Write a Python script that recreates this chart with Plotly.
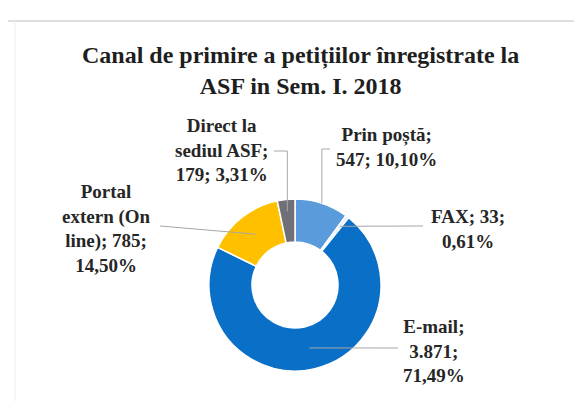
import math
import plotly.graph_objects as go

# ---- data ----
categories = ["Prin poștă", "FAX", "E-mail", "Portal extern (On line)", "Direct la sediul ASF"]
label_names = ["Prin poștă", "FAX", "E-mail", "Portal<br>extern (On<br>line)", "Direct la<br>sediul ASF"]
values = [547, 33, 3871, 785, 179]
colors = ["#5a9bdc", "#e6edf6", "#0a6fc6", "#ffc000", "#6f6f78"]

title_text = "Canal de primire a petițiilor înregistrate la<br>ASF in Sem. I. 2018"

# ---- layout constants (pixels) ----
W, H = 582, 401
CX, CY, R = 287, 277, 86
HOLE = 0.5

sep1 = ["<br>", " ", "<br>", " ", "<br>"]
sep2 = [" ", "<br>", "<br>", "<br>", " "]
label_pos = [(378, 139), (460, 221), (426, 343), (98, 220), (213, 142)]
line_r = [1.0, 0.86, 0.75, 0.75, 0.86]
elbows = [[(None, 141), (322, 141)],
          [(415, 218)],
          [(390, 340)],
          [(152, 218)],
          [(None, 143), (266, 143)]]

total = sum(values)


def fmt_int(v):
    return f"{v:,}".replace(",", ".")


def fmt_pct(v):
    return f"{100 * v / total:.2f}".replace(".", ",") + "%"


def px(x):
    return x / W


def py(y):
    return 1 - y / H


fig = go.Figure(go.Pie(
    labels=categories,
    values=values,
    hole=HOLE,
    sort=False,
    direction="clockwise",
    rotation=0,
    textinfo="none",
    hoverinfo="label+value+percent",
    marker=dict(colors=colors, line=dict(color="white", width=1.5)),
    domain=dict(x=[px(CX - R), px(CX + R)], y=[py(CY + R), py(CY - R)]),
    showlegend=False,
))

annotations = [dict(
    text="<b>" + title_text + "</b>", x=px(292), y=py(62), xref="paper", yref="paper",
    xanchor="center", yanchor="middle", showarrow=False,
    font=dict(family="Liberation Serif", size=24, color="#1e1e1e"),
)]
shapes = []

cum = 0
for i, v in enumerate(values):
    mid = (cum + v / 2) / total * 2 * math.pi
    cum += v
    ex = CX + R * line_r[i] * math.sin(mid)
    ey = CY - R * line_r[i] * math.cos(mid)
    pts = [(ex, ey)]
    for (x, y) in elbows[i]:
        pts.append((pts[-1][0] if x is None else x, y))
    path = "M " + " L ".join(f"{px(x):.5f},{py(y):.5f}" for x, y in pts)
    shapes.append(dict(type="path", path=path, xref="paper", yref="paper",
                       line=dict(color="#a6a6a6", width=1)))
    text = label_names[i] + ";" + sep1[i] + fmt_int(v) + ";" + sep2[i] + fmt_pct(v)
    lx, ly = label_pos[i]
    annotations.append(dict(
        text="<b>" + text + "</b>", x=px(lx), y=py(ly), xref="paper", yref="paper",
        xanchor="center", yanchor="middle", showarrow=False, align="center",
        font=dict(family="Liberation Serif", size=19, color="#262626"),
    ))

# frame lines
shapes += [
    dict(type="line", x0=0, x1=1, y0=py(13), y1=py(13), xref="paper", yref="paper",
         line=dict(color="#d4d4d4", width=1.5)),
    dict(type="line", x0=px(7), x1=px(7), y0=py(13), y1=py(399), xref="paper", yref="paper",
         line=dict(color="#ededed", width=1)),
    dict(type="line", x0=px(7), x1=1, y0=py(399), y1=py(399), xref="paper", yref="paper",
         line=dict(color="#e6e6e6", width=1)),
]

fig.update_layout(
    width=W, height=H,
    margin=dict(l=0, r=0, t=0, b=0),
    paper_bgcolor="white", plot_bgcolor="white",
    annotations=annotations, shapes=shapes,
)

fig.write_html("out.html")
